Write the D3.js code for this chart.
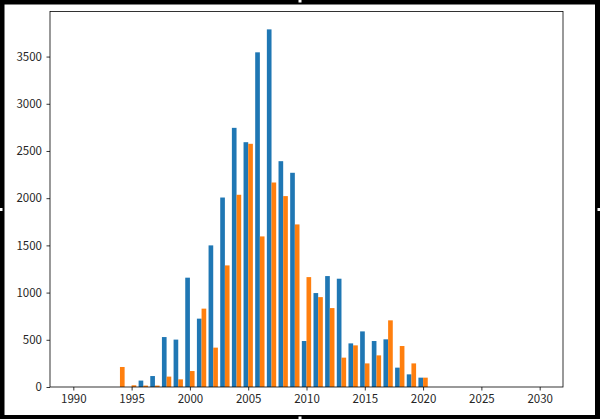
<!DOCTYPE html>
<html>
<head>
<meta charset="utf-8">
<script src="https://cdn.jsdelivr.net/npm/d3@7"></script>
<style>
  html, body { margin: 0; padding: 0; background: #fff; }
  svg { display: block; }
</style>
</head>
<body>
<svg id="chart" width="600" height="419"></svg>
<script>
  const years = d3.range(1994, 2021);
  // blue series, one value per year in `years`
  const blueValues = [0, 0, 68, 116, 529, 502, 1158, 724, 1500, 2007, 2745, 2593, 3545, 3788,
    2392, 2269, 487, 995, 1175, 1147, 462, 589, 487, 505, 205, 134, 99];
  // orange series
  const orangeValues = [212, 18, 15, 15, 110, 81, 169, 830, 417, 1288, 2036, 2576, 1595, 2166,
    2022, 1722, 1164, 952, 836, 311, 441, 250, 335, 706, 434, 250, 99];
  const xTicks = d3.range(1990, 2031, 5);
  const yTicks = d3.range(0, 3501, 500);

  const svg = d3.select("#chart");
  const margin = { left: 50, right: 37, top: 11.5, bottom: 32 };
  const width = 600, height = 419;

  const x = d3.scaleLinear().domain([1988, 2032]).range([margin.left, width - margin.right]);
  const yMax = d3.max(blueValues.concat(orangeValues)) * 1.05;
  const y = d3.scaleLinear().domain([0, yMax]).range([height - margin.bottom, margin.top]);

  const barWidth = 0.4;
  const series = [
    { values: blueValues, color: "#1f77b4", offset: -barWidth },
    { values: orangeValues, color: "#ff7f0e", offset: 0 },
  ];

  const bars = svg.append("g");
  series.forEach(function (s) {
    bars.append("g")
      .selectAll("rect")
      .data(years.map((year, i) => ({ year, value: s.values[i] })).filter((d) => d.value > 0))
      .join("rect")
      .attr("x", (d) => x(d.year + s.offset))
      .attr("width", (d) => x(d.year + s.offset + barWidth) - x(d.year + s.offset))
      .attr("y", (d) => y(d.value))
      .attr("height", (d) => y(0) - y(d.value))
      .attr("fill", s.color);
  });

  const font = "'Noto Sans CJK KR', 'Noto Sans', sans-serif";

  const xAxis = svg.append("g")
    .attr("transform", `translate(0,${y(0)})`)
    .call(d3.axisBottom(x).tickValues(xTicks).tickFormat(d3.format("d")).tickSize(3.5).tickPadding(4));
  const yAxis = svg.append("g")
    .attr("transform", `translate(${margin.left},0)`)
    .call(d3.axisLeft(y).tickValues(yTicks).tickFormat(d3.format("d")).tickSize(3.5).tickPadding(4.5));

  [xAxis, yAxis].forEach(function (axis) {
    axis.select(".domain").remove();
    axis.selectAll(".tick line").attr("stroke", "#000").attr("stroke-width", 0.8);
    axis.selectAll(".tick text")
      .attr("fill", "#262626")
      .style("font-family", font)
      .style("font-size", "11.5px");
  });

  // axes frame
  svg.append("rect")
    .attr("x", x.range()[0])
    .attr("y", y.range()[1])
    .attr("width", x.range()[1] - x.range()[0])
    .attr("height", y.range()[0] - y.range()[1])
    .attr("fill", "none")
    .attr("stroke", "#000")
    .attr("stroke-width", 0.8);

  // outer black border with small white handles
  const border = svg.append("g");
  border.append("rect").attr("x", 0).attr("y", 0).attr("width", width).attr("height", 4.5).attr("fill", "#000");
  border.append("rect").attr("x", 0).attr("y", height - 4).attr("width", width).attr("height", 4).attr("fill", "#000");
  border.append("rect").attr("x", 0).attr("y", 0).attr("width", 4.5).attr("height", height).attr("fill", "#000");
  border.append("rect").attr("x", width - 5).attr("y", 0).attr("width", 5).attr("height", height).attr("fill", "#000");
  border.append("rect").attr("x", 298.5).attr("y", 0).attr("width", 3).attr("height", 2.5).attr("fill", "#fff");
  border.append("rect").attr("x", 298.5).attr("y", height - 2.5).attr("width", 3).attr("height", 2.5).attr("fill", "#fff");
  border.append("rect").attr("x", 0).attr("y", 208).attr("width", 2.5).attr("height", 3).attr("fill", "#fff");
  border.append("rect").attr("x", width - 2.5).attr("y", 208).attr("width", 2.5).attr("height", 3).attr("fill", "#fff");
</script>
</body>
</html>
